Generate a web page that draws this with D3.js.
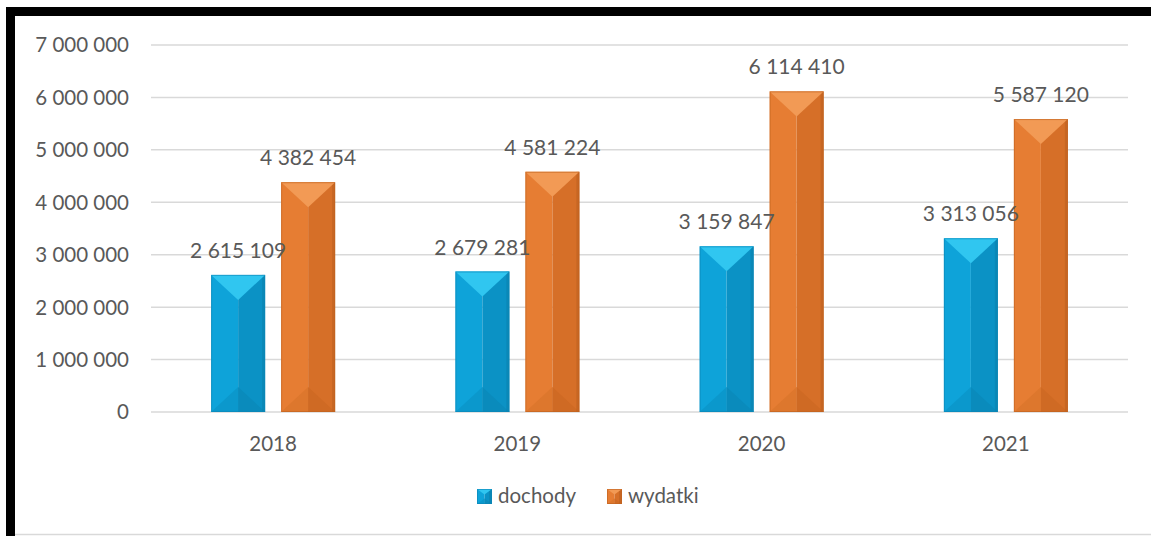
<!DOCTYPE html>
<html>
<head>
<meta charset="utf-8">
<script src="https://cdn.jsdelivr.net/npm/d3@7/dist/d3.min.js"></script>
<style>
html,body{margin:0;padding:0;background:#fff;}
svg{display:block;}
text{font-family:Lato,"Open Sans",sans-serif;fill:#595959;}
</style>
</head>
<body>
<svg id="chart" width="1151" height="536"></svg>
<script>
const years = ["2018", "2019", "2020", "2021"];
const seriesNames = ["dochody", "wydatki"];
const dochody = [2615109, 2679281, 3159847, 3313056];
const wydatki = [4382454, 4581224, 6114410, 5587120];
const yTicks = [0, 1000000, 2000000, 3000000, 4000000, 5000000, 6000000, 7000000];

const palettes = {
  dochody: {top:"#30C6F0", left:"#0EA3D9", right:"#0B92C5", bottom:"#0B98CC", bottomR:"#0A8BBC", edge:"#0A7DAA", stroke:"#0B86B5"},
  wydatki: {top:"#F29A55", left:"#E67D33", right:"#D66F28", bottom:"#DD772D", bottomR:"#CF6A24", edge:"#B85D1D", stroke:"#C0621F"}
};

const svg = d3.select("#chart");
const fmt = v => d3.format(",")(v).replace(/,/g, " ");

// frame
svg.append("rect").attr("x",6).attr("y",7).attr("width",1145).attr("height",9).attr("fill","#000");
svg.append("rect").attr("x",6).attr("y",7).attr("width",9).attr("height",529).attr("fill","#000");
svg.append("line").attr("x1",15).attr("x2",1151).attr("y1",534.5).attr("y2",534.5).attr("stroke","#d9d9d9").attr("stroke-width",1.5);

const x0 = d3.scaleBand().domain(years).range([151, 1128]);
const x1 = d3.scaleBand().domain(seriesNames).range([0, 124]).paddingInner(16/70);
const y = d3.scaleLinear().domain([0, 7000000]).range([412, 45]);

// gridlines
svg.append("g").selectAll("line").data(yTicks).join("line")
  .attr("x1",151).attr("x2",1128)
  .attr("y1",d=>y(d)).attr("y2",d=>y(d))
  .attr("stroke","#d9d9d9").attr("stroke-width",1.5);

// y axis labels
svg.append("g").selectAll("text").data(yTicks).join("text")
  .attr("x",129).attr("y",d=>y(d)).attr("dy","0.36em")
  .attr("text-anchor","end").attr("font-size",20.5)
  .text(d=>fmt(d));

// x labels
svg.append("g").selectAll("text").data(years).join("text")
  .attr("x",d=>x0(d)+x0.bandwidth()/2).attr("y",451)
  .attr("text-anchor","middle").attr("font-size",20.5)
  .text(d=>d);

const values = {dochody, wydatki};

function drawBevel(g, xL, w, yT, yB, p) {
  const cx = xL + w/2;
  const h = yB - yT;
  const tri = Math.min(w/2 - 2, h/2);
  g.append("rect").attr("x",xL).attr("y",yT).attr("width",w/2).attr("height",h).attr("fill",p.left);
  g.append("rect").attr("x",cx).attr("y",yT).attr("width",w/2).attr("height",h).attr("fill",p.right);
  g.append("path").attr("d",`M${xL},${yB}L${cx},${yB-tri}L${cx},${yB}Z`).attr("fill",p.bottom);
  g.append("path").attr("d",`M${cx},${yB}L${cx},${yB-tri}L${xL+w},${yB}Z`).attr("fill",p.bottomR);
  g.append("rect").attr("x",xL+w-3).attr("y",yT).attr("width",3).attr("height",h).attr("fill",p.edge).attr("opacity",0.5);
  g.append("path").attr("d",`M${xL},${yT}L${xL+w},${yT}L${cx},${yT+tri}Z`).attr("fill",p.top);
  g.append("rect").attr("x",xL+0.5).attr("y",yT+0.5).attr("width",w-1).attr("height",h-1)
    .attr("fill","none").attr("stroke",p.stroke).attr("stroke-width",1).attr("opacity",0.6);
}

const barLayer = svg.append("g");
const labelLayer = svg.append("g");

seriesNames.forEach(s => {
  years.forEach((yr, i) => {
    const v = values[s][i];
    const xL = x0(yr) + x0.bandwidth()/2 - 62 + x1(s);
    const w = x1.bandwidth();
    drawBevel(barLayer.append("g"), xL, w, y(v), y(0), palettes[s]);
    labelLayer.append("text").attr("x", xL + w/2).attr("y", y(v) - 17)
      .attr("text-anchor","middle").attr("font-size",21)
      .text(fmt(v));
  });
});

// legend
const legendItems = [{name:"dochody", x:477}, {name:"wydatki", x:607}];
legendItems.forEach(it => {
  const g = svg.append("g");
  drawBevel(g, it.x, 15, 489, 504, palettes[it.name]);
  svg.append("text").attr("x", it.x + 21).attr("y", 503).attr("font-size",20.5).text(it.name);
});
</script>
</body>
</html>
